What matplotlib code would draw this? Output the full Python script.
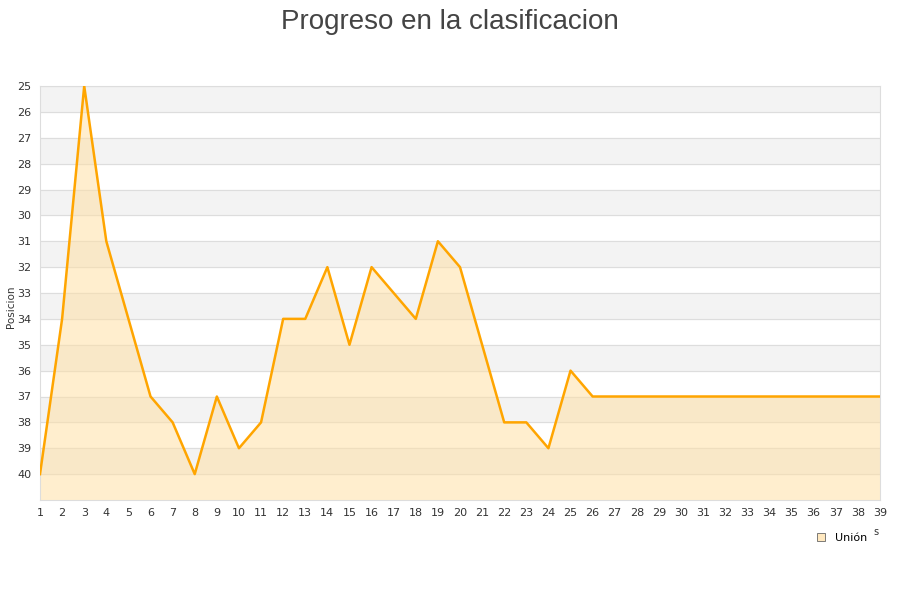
import numpy as np
import matplotlib.pyplot as plt
from matplotlib.lines import Line2D

# Jornadas y posiciones
jornadas = list(range(1, 40))
posicion = [40, 34, 25, 31, 34, 37, 38, 40, 37, 39, 38, 34, 34, 32, 35, 32, 33, 34, 31, 32,
            35, 38, 38, 39, 36, 37, 37, 37, 37, 37, 37, 37, 37, 37, 37, 37, 37, 37, 37]
y_ticks = list(range(25, 41))

fig = plt.figure(figsize=(9, 6), dpi=100)
ax = fig.add_axes([40 / 900, 100 / 600, 840 / 900, 414 / 600])

# alternating bands
for y in range(25, 41, 2):
    ax.axhspan(y, y + 1, color="#f3f3f3", zorder=0)
for y in y_ticks:
    ax.axhline(y, color="#dddddd", lw=0.8, zorder=1)

ax.fill_between(jornadas, posicion, 41, color="#ffe0a6", alpha=0.55, lw=0, zorder=2)
ax.plot(jornadas, posicion, color="#ffa500", lw=1.8, zorder=3)

ax.set_xlim(1, 39)
ax.set_ylim(41, 25)
ax.set_xticks(jornadas)
ax.set_yticks(y_ticks)
ax.tick_params(length=0, labelsize=8, colors="#333333", pad=6)
for s in ax.spines.values():
    s.set_color("#dddddd")
    s.set_linewidth(0.8)

fig.text(0.012, 0.488, "Posicion", fontsize=7.5, color="#333333", rotation=90,
         ha="center", va="center")
fig.suptitle("Progreso en la clasificacion", fontsize=20, color="#444444", y=0.985,
             family="Liberation Sans")

h = Line2D([], [], marker="s", ls="none", markersize=6, markerfacecolor="#ffe8bf",
           markeredgecolor="#666666", markeredgewidth=0.6)
fig.legend([h], ["Unión"], loc="upper right", bbox_to_anchor=(0.975, 0.128),
           frameon=False, fontsize=8, handletextpad=0.3)
fig.text(0.971, 0.108, "s", fontsize=7, color="#333333")

fig.savefig("out.png", dpi=100)
